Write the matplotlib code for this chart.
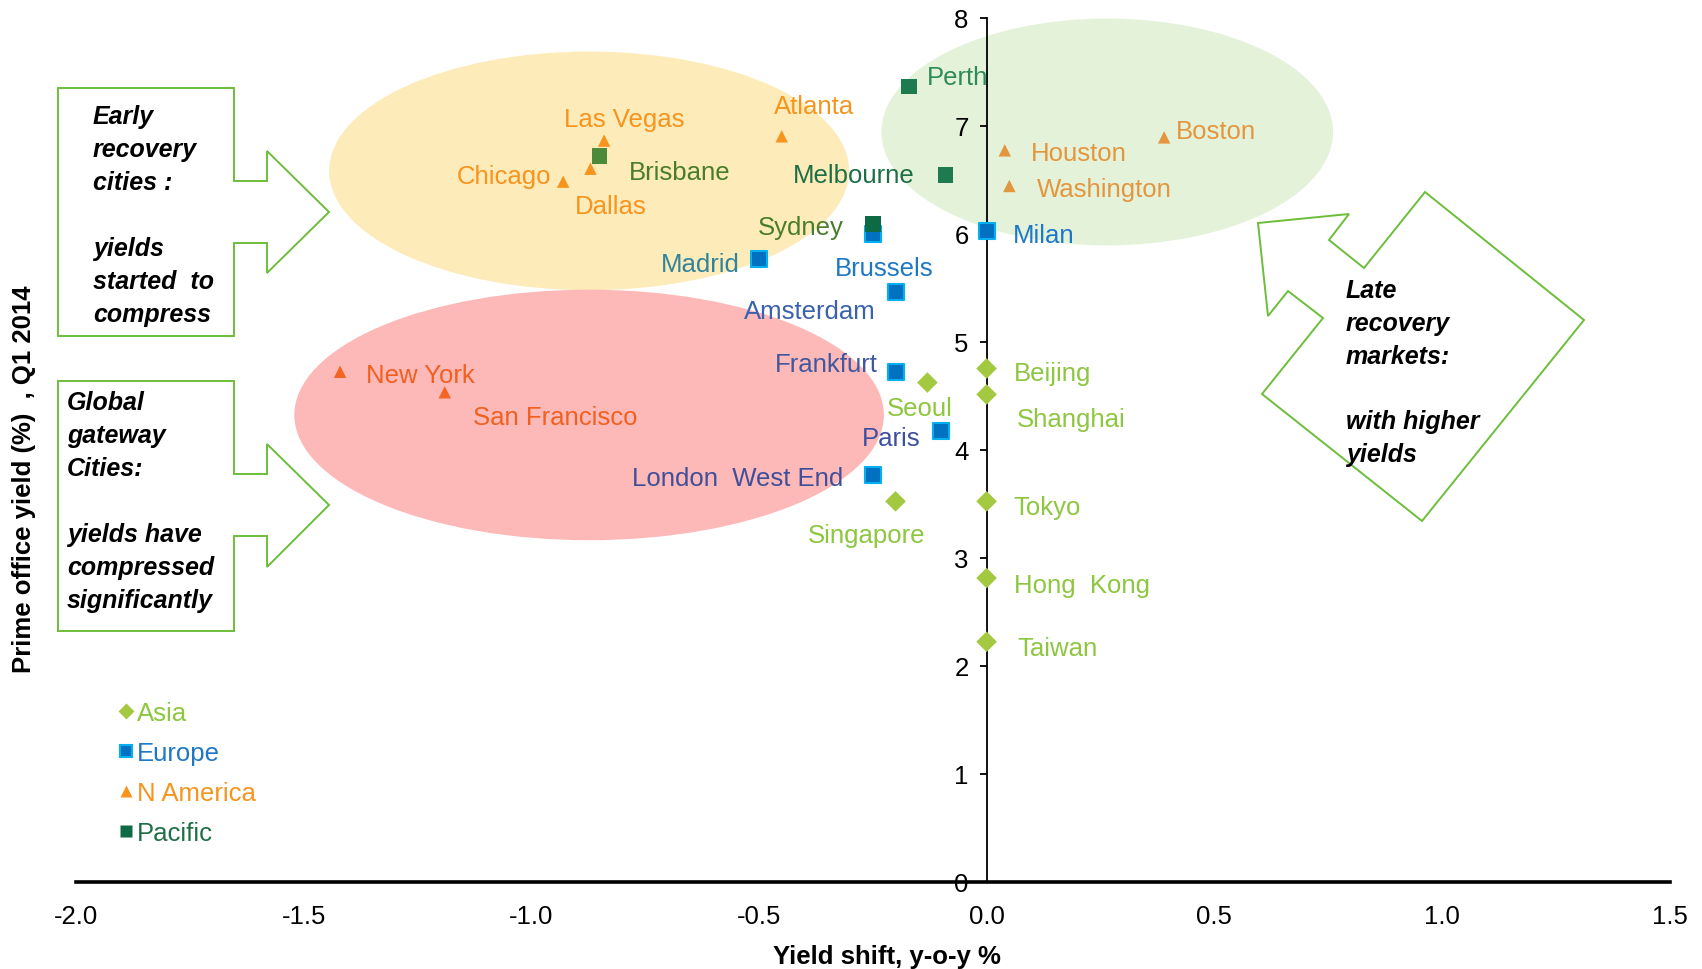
import numpy as np
import matplotlib
matplotlib.use('Agg')
import matplotlib.pyplot as plt
from matplotlib.patches import Ellipse, Polygon
from matplotlib.lines import Line2D

plt.rcParams['font.family'] = ['Liberation Sans', 'DejaVu Sans']

W, H = 1702, 970
FS = 18.5

# yield shift y-o-y (%) and prime office yield Q1 2014 (%)
asia_names = ['Beijing', 'Shanghai', 'Seoul', 'Singapore', 'Tokyo', 'Hong  Kong', 'Taiwan']
asia_x = [0.0, 0.0, -0.13, -0.20, 0.0, 0.0, 0.0]
asia_y = [4.75, 4.51, 4.62, 3.52, 3.52, 2.81, 2.22]

europe_names = ['Milan', 'Brussels', 'Madrid', 'Amsterdam', 'Frankfurt', 'Paris', 'London  West End']
europe_x = [0.0, -0.25, -0.50, -0.20, -0.20, -0.10, -0.25]
europe_y = [6.02, 6.00, 5.76, 5.46, 4.72, 4.17, 3.76]

namerica_names = ['Las Vegas', 'Atlanta', 'Chicago', 'Dallas', 'Houston', 'Washington',
                  'Boston', 'New York', 'San Francisco']
namerica_x = [-0.84, -0.45, -0.93, -0.87, 0.04, 0.05, 0.39, -1.42, -1.19]
namerica_y = [6.86, 6.90, 6.48, 6.60, 6.77, 6.44, 6.89, 4.72, 4.53]

pacific_names = ['Perth', 'Melbourne', 'Sydney', 'Brisbane']
pacific_x = [-0.17, -0.09, -0.25, -0.85]
pacific_y = [7.36, 6.54, 6.09, 6.72]

# label placement: offset in points from the marker, alignment, text colour
label_style = {
    'Beijing': (19.5, -3, 'left', '#8DC63F'),
    'Shanghai': (22, -18, 'left', '#8DC63F'),
    'Seoul': (-5.5, -18, 'center', '#8DC63F'),
    'Singapore': (-21, -24, 'center', '#8DC63F'),
    'Tokyo': (19.5, -4, 'left', '#8DC63F'),
    'Hong  Kong': (19.5, -4.7, 'left', '#8DC63F'),
    'Taiwan': (22, -4.7, 'left', '#8DC63F'),
    'Milan': (19, -2.3, 'left', '#1E78C8'),
    'Brussels': (-27, -25, 'left', '#1F78C4'),
    'Madrid': (-14, -3, 'right', '#31849B'),
    'Amsterdam': (-14, -14, 'right', '#3A62AE'),
    'Frankfurt': (-12.5, 5.5, 'right', '#41589F'),
    'Paris': (-15, -4.7, 'right', '#3F4FA0'),
    'London  West End': (-21, -1.6, 'right', '#3F4F99'),
    'Las Vegas': (-29, 15.6, 'left', '#F7941D'),
    'Atlanta': (-5.5, 22, 'left', '#F7941D'),
    'Chicago': (-8.6, 4, 'right', '#F7941D'),
    'Dallas': (-11, -26.5, 'left', '#F7941D'),
    'Houston': (19, -1.6, 'left', '#E3963E'),
    'Washington': (20, -2.3, 'left', '#E3963E'),
    'Boston': (8.6, 4.7, 'left', '#E3963E'),
    'New York': (19, -2.3, 'left', '#F2601F'),
    'San Francisco': (20, -18, 'left', '#F2601F'),
    'Perth': (13, 7, 'left', '#2E8B57'),
    'Melbourne': (-22, 0, 'right', '#1F6F46'),
    'Sydney': (-21, -2.3, 'right', '#4A7D2B'),
    'Brisbane': (21, -11.7, 'left', '#4A7D2B'),
}

namerica_colors = ['#F7941D'] * 4 + ['#E3963E'] * 3 + ['#F26522'] * 2
pacific_colors = ['#1E7B4F', '#1E7B4F', '#0E6A45', '#4C8A3A']

fig = plt.figure(figsize=(W / 100, H / 100), dpi=100)
ax = fig.add_axes([76 / W, 1 - 882.5 / H, (1669.5 - 76) / W, (882.5 - 18.5) / H])
ax.set_xlim(-2.0, 1.5)
ax.set_ylim(0, 8)

# shaded groupings
ax.add_patch(Ellipse((-0.873, 6.58), 1.142, 2.21, fc='#FDEBB9', ec='none', zorder=1, clip_on=False))
ax.add_patch(Ellipse((0.265, 6.94), 0.992, 2.10, fc='#E4F2DA', ec='none', zorder=1, clip_on=False))
ax.add_patch(Ellipse((-0.873, 4.32), 1.295, 2.32, fc='#FDB8B8', ec='none', zorder=1, clip_on=False))

ax.scatter(asia_x, asia_y, marker='D', s=110, c='#A3C940', edgecolors='none', zorder=3)
ax.scatter(europe_x, europe_y, marker='s', s=125, c='#0070C0', edgecolors='#00B0F0',
           linewidths=1.5, zorder=3)
ax.scatter(namerica_x, namerica_y, marker='^', s=80, c=namerica_colors, edgecolors='none', zorder=3)
ax.scatter(pacific_x, pacific_y, marker='s', s=125, c=pacific_colors, edgecolors='none', zorder=3)

for names, xs, ys in [(asia_names, asia_x, asia_y), (europe_names, europe_x, europe_y),
                      (namerica_names, namerica_x, namerica_y),
                      (pacific_names, pacific_x, pacific_y)]:
    for n, x, y in zip(names, xs, ys):
        dx, dy, ha, col = label_style[n]
        ax.annotate(n, (x, y), xytext=(dx, dy), textcoords='offset points',
                    ha=ha, va='center', color=col, fontsize=FS, zorder=4)

# axes styling
for s in ['top', 'right']:
    ax.spines[s].set_visible(False)
ax.spines['left'].set_position(('data', 0))
ax.spines['left'].set_linewidth(1.3)
ax.spines['bottom'].set_linewidth(2.6)
ax.set_xticks(np.arange(-2.0, 1.51, 0.5))
ax.set_xticklabels(['%.1f' % v for v in np.arange(-2.0, 1.51, 0.5)])
ax.set_yticks(range(0, 9))
ax.tick_params(axis='x', length=0, pad=16, labelsize=FS)
ax.tick_params(axis='y', direction='out', length=5, width=1.3, pad=8, labelsize=FS)

fig.text(887 / W, 1 - 957 / H, 'Yield shift, y-o-y %', ha='center', va='center',
         fontsize=FS, fontweight='bold')
fig.text(24 / W, 1 - 479 / H, 'Prime office yield (%)  , Q1 2014', ha='center', va='center',
         rotation=90, fontsize=FS, fontweight='bold')

# legend
handles = [
    Line2D([], [], ls='none', marker='D', ms=8, mfc='#A3C940', mec='none'),
    Line2D([], [], ls='none', marker='s', ms=9, mfc='#0070C0', mec='#00B0F0', mew=1.5),
    Line2D([], [], ls='none', marker='^', ms=8, mfc='#F7941D', mec='none'),
    Line2D([], [], ls='none', marker='s', ms=8, mfc='#0E6A45', mec='none'),
]
ax.legend(handles, ['Asia', 'Europe', 'N America', 'Pacific'], loc='upper left',
          bbox_to_anchor=(120 / W, 1 - 702 / H), bbox_transform=fig.transFigure,
          frameon=False, fontsize=FS, handlelength=0.5, handletextpad=0.15,
          borderpad=0, borderaxespad=0, labelspacing=0.62,
          labelcolor=['#8DC63F', '#1E78C8', '#F7941D', '#1F6F46'])


def fig_poly(pts):
    return Polygon([(x / W, 1 - y / H) for x, y in pts], closed=True, fc='white',
                   ec='#6CBE3A', lw=1.4, transform=fig.transFigure, zorder=5)


box_early = [(58, 89), (234, 89), (234, 182), (267, 182), (267, 152), (329, 213),
             (267, 274), (267, 244), (234, 244), (234, 337), (58, 337)]
box_global = [(58, 382), (234, 382), (234, 475), (267, 475), (267, 445), (329, 506),
              (267, 568), (267, 537), (234, 537), (234, 632), (58, 632)]
arrow_late = [(1425, 193), (1584, 321), (1422, 522), (1262, 395), (1323, 319),
              (1288, 292), (1268, 317), (1258, 224), (1349, 215), (1329, 241), (1364, 269)]
for pts in [box_early, box_global, arrow_late]:
    fig.patches.append(fig_poly(pts))

note_kw = dict(ha='left', va='center', fontsize=18, fontweight='bold', style='italic',
               linespacing=1.47, zorder=6)
fig.text(93 / W, 1 - 216 / H, 'Early\nrecovery\ncities :\n\nyields\nstarted  to\ncompress',
         **note_kw)
fig.text(67 / W, 1 - 502 / H, 'Global\ngateway\nCities:\n\nyields have\ncompressed\nsignificantly',
         **note_kw)
fig.text(1346 / W, 1 - 373 / H, 'Late\nrecovery\nmarkets:\n\nwith higher\nyields', **note_kw)

fig.savefig('out.png', dpi=100)
